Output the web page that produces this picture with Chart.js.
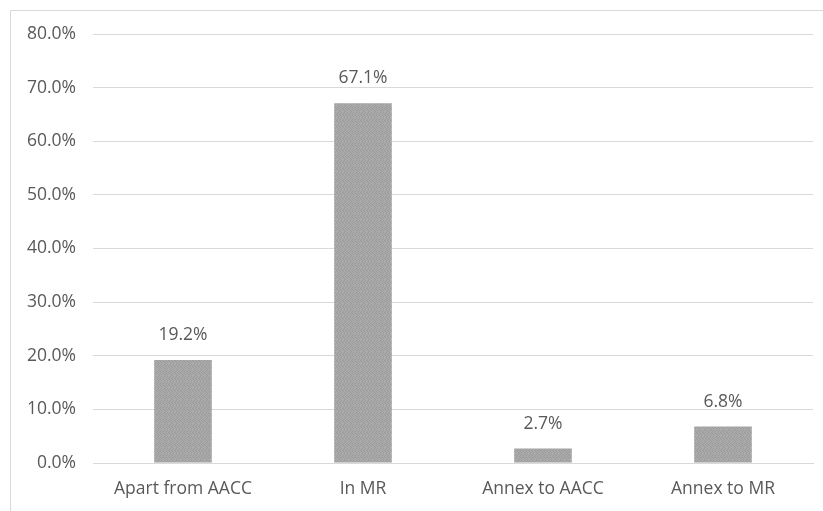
<!DOCTYPE html>
<html>
<head>
<meta charset="utf-8">
<script src="https://cdn.jsdelivr.net/npm/chart.js@4/dist/chart.umd.min.js"></script>
<style>
  html, body { margin: 0; padding: 0; background: #fff; }
  #wrap { width: 823px; height: 511px; position: relative; }
</style>
</head>
<body>
<div id="wrap"><canvas id="chart" width="823" height="511"></canvas></div>
<script>
// chart values
const categories = ["Apart from AACC", "In MR", "Annex to AACC", "Annex to MR"];
const shares = [19.2, 67.1, 2.7, 6.8];
const yTicks = [0, 10, 20, 30, 40, 50, 60, 70, 80];

const fontFamily = "'Open Sans', sans-serif";
const fontSize = 17.5;
const textColor = "#595959";

// grey dithered fill like the original
function makePattern() {
  const c = document.createElement("canvas");
  c.width = 6;
  c.height = 6;
  const g = c.getContext("2d");
  g.fillStyle = "#aaaaaa";
  g.fillRect(0, 0, 6, 6);
  g.fillStyle = "#999999";
  const zig = [0, 1, 2, 3, 2, 1];
  for (let y = 0; y < 6; y++) {
    g.fillRect(zig[y], y, 1, 1);
    g.fillRect(zig[y] + 3, y, 1, 1);
  }
  return g.createPattern(c, "repeat");
}

const frame = {
  id: "frame",
  beforeDraw(chart) {
    const ctx = chart.ctx;
    ctx.save();
    ctx.strokeStyle = "#d9d9d9";
    ctx.lineWidth = 1;
    ctx.beginPath();
    ctx.moveTo(10.5, 520);
    ctx.lineTo(10.5, 10.5);
    ctx.lineTo(830, 10.5);
    ctx.stroke();
    ctx.restore();
  }
};

const valueLabels = {
  id: "valueLabels",
  afterDatasetsDraw(chart) {
    const ctx = chart.ctx;
    const meta = chart.getDatasetMeta(0);
    ctx.save();
    ctx.font = fontSize + "px " + fontFamily;
    ctx.fillStyle = textColor;
    ctx.textAlign = "center";
    ctx.textBaseline = "middle";
    meta.data.forEach((bar, i) => {
      ctx.fillText(shares[i].toFixed(1) + "%", bar.x, bar.y - 25);
    });
    ctx.restore();
  }
};

new Chart(document.getElementById("chart"), {
  type: "bar",
  data: {
    labels: categories,
    datasets: [
      {
        data: shares,
        backgroundColor: makePattern(),
        borderWidth: 0,
        categoryPercentage: 1,
        barPercentage: 0.32,
      },
    ],
  },
  options: {
    responsive: false,
    animation: false,
    layout: { padding: { top: 34, right: 10, left: 0, bottom: 0 } },
    plugins: {
      legend: { display: false },
      tooltip: { enabled: false },
    },
    scales: {
      x: {
        grid: { display: false, drawTicks: false },
        border: { color: "#d9d9d9" },
        ticks: {
          color: textColor,
          font: { family: fontFamily, size: fontSize },
          padding: 16,
          maxRotation: 0,
        },
        afterFit(scale) { scale.height = 48; },
      },
      y: {
        min: 0,
        max: 80,
        afterBuildTicks(scale) { scale.ticks = yTicks.map(v => ({ value: v })); },
        grid: { color: "#d9d9d9", drawTicks: false },
        border: { display: false },
        ticks: {
          color: textColor,
          font: { family: fontFamily, size: fontSize },
          padding: 17,
          callback: v => v.toFixed(1) + "%",
        },
        afterFit(scale) { scale.width = 93; },
      },
    },
  },
  plugins: [frame, valueLabels],
});
</script>
</body>
</html>
